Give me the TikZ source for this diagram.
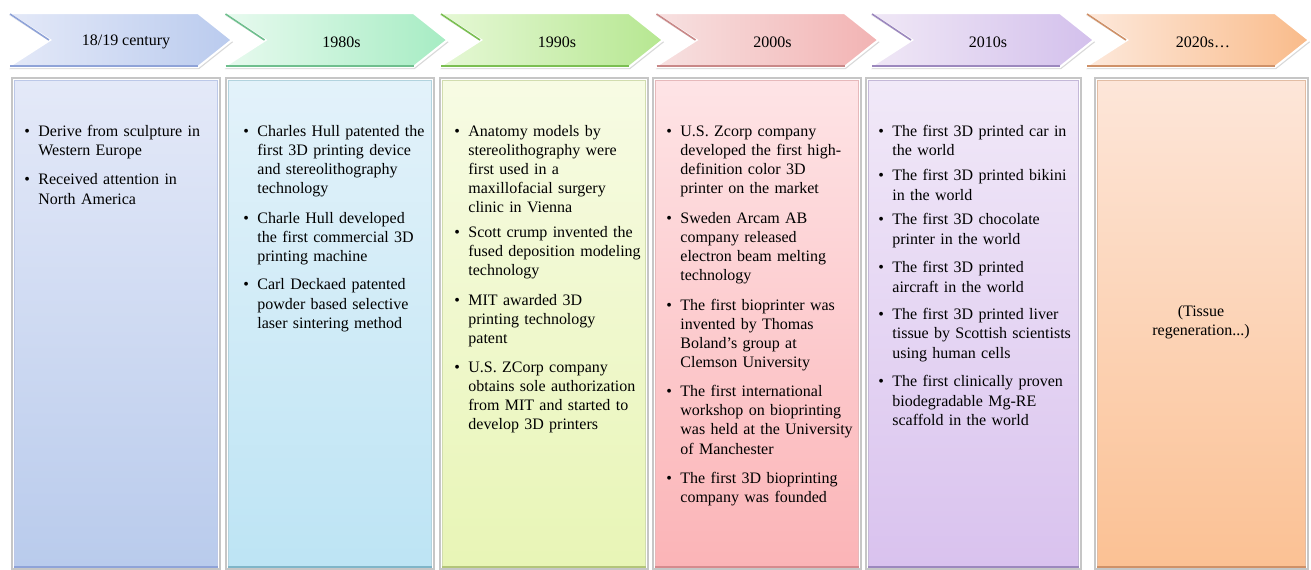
\documentclass[tikz,border=0pt]{standalone}
\usepackage{fontspec}
\setmainfont{Liberation Serif}
\usetikzlibrary{positioning,shadows}

\definecolor{blueL}{HTML}{E4E9F8}
\definecolor{blueR}{HTML}{BACBEE}
\definecolor{blueD}{HTML}{8FA3D8}
\definecolor{mintL}{HTML}{E8FAEF}
\definecolor{mintR}{HTML}{A6ECC3}
\definecolor{mintD}{HTML}{6FBF8E}
\definecolor{limeL}{HTML}{E6F8D6}
\definecolor{limeR}{HTML}{B6E791}
\definecolor{limeD}{HTML}{7BBF52}
\definecolor{pinkL}{HTML}{F7E1E1}
\definecolor{pinkR}{HTML}{F2B3B3}
\definecolor{pinkD}{HTML}{C98888}
\definecolor{lilaL}{HTML}{F0E8F6}
\definecolor{lilaR}{HTML}{D3C0EC}
\definecolor{lilaD}{HTML}{9C88BE}
\definecolor{peachL}{HTML}{FDE9DC}
\definecolor{peachR}{HTML}{F9BB8A}
\definecolor{peachD}{HTML}{CF9168}
% panel colours
\definecolor{bluT}{HTML}{E4E9F8}
\definecolor{bluB}{HTML}{B9CBEC}
\definecolor{cyaT}{HTML}{E3F2FA}
\definecolor{cyaB}{HTML}{BDE4F4}
\definecolor{cyaD}{HTML}{7FB5C8}
\definecolor{yelT}{HTML}{F7FBE4}
\definecolor{yelB}{HTML}{E8F5B6}
\definecolor{yelD}{HTML}{B3C57A}
\definecolor{redT}{HTML}{FEE4E6}
\definecolor{redB}{HTML}{FBB4B7}
\definecolor{redD}{HTML}{D68A8E}
\definecolor{vioT}{HTML}{F1E9F8}
\definecolor{vioB}{HTML}{D9C2EE}
\definecolor{orgT}{HTML}{FDE6D9}
\definecolor{orgB}{HTML}{FBC194}

\tikzset{
  era/.style={draw=white, line width=1.2pt,
    drop shadow={opacity=.3, shadow xshift=.6pt, shadow yshift=-1.2pt}},
  eralabel/.style={inner sep=0pt, font=\fontsize{9.1}{10.9}\selectfont},
  panel/.style={anchor=north west, inner sep=0pt, minimum height=9.72cm,
    draw=#1!60, line width=.5pt,
    preaction={draw=gray!45, double=white, double distance=2pt, line width=.8pt}},
  facts/.style={anchor=base west, text width=3.9cm, align=left, inner sep=0pt,
    font=\fontsize{9.1}{10.9}\selectfont},
}

% one arrow of the time line: x, left colour, right colour, edge colour
\newcommand{\era}[4]{%
  \shade[era, left color=#2, right color=#3] (#1,13) -- ++(190,0) -- ++(34,27)
    -- ++(-34,27) -- ++(-190,0) -- ++(42,-27) -- cycle;
  \draw[#4, line width=.9pt] (#1+2,14) -- (#1+41,40);
  \draw[#4, line width=.9pt] (#1+2,66) -- (#1+190,66);
}
\newcommand{\itm}{\leftskip=8pt\noindent\llap{\makebox[8pt][l]{\textbullet}}}
\newcommand{\gap}[1]{\par\vspace{#1}}

\begin{document}
\begin{tikzpicture}[x=0.02cm,y=-0.02cm]
\useasboundingbox (0,0) rectangle (1311,569);

% time line
\era{8}{blueL}{blueR}{blueD}
\era{223.5}{mintL}{mintR}{mintD}
\era{439}{limeL}{limeR}{limeD}
\era{654.5}{pinkL}{pinkR}{pinkD}
\era{870}{lilaL}{lilaR}{lilaD}
\era{1085}{peachL}{peachR}{peachD}

\node[eralabel] (e1) at (126,42) {18/19 century};
\node[eralabel] (e2) at (341.5,42) {1980s};
\node[eralabel] (e3) at (557,42) {1990s};
\node[eralabel] (e4) at (772.5,42) {2000s};
\node[eralabel] (e5) at (988,42) {2010s};
\node[eralabel] (e6) at (1203,42) {2020s…};

% panels
\node[panel=blueD, top color=bluT, bottom color=bluB, minimum width=4.06cm] (p1) at (14,80) {};
\node[panel=cyaD, top color=cyaT, bottom color=cyaB, minimum width=4.06cm] (p2) at (228,80) {};
\node[panel=yelD, top color=yelT, bottom color=yelB, minimum width=4.06cm] (p3) at (442,80) {};
\node[panel=redD, top color=redT, bottom color=redB, minimum width=4.06cm] (p4) at (655,80) {};
\node[panel=lilaD, top color=vioT, bottom color=vioB, minimum width=4.2cm] (p5) at (868,80) {};
\node[panel=peachD, top color=orgT, bottom color=orgB, minimum width=4.16cm] (p6) at (1097,80) {};

\draw[blueD, line width=1pt] (p1.south west) -- (p1.south east);
\draw[cyaD, line width=1pt] (p2.south west) -- (p2.south east);
\draw[yelD, line width=1pt] (p3.south west) -- (p3.south east);
\draw[redD, line width=1pt] (p4.south west) -- (p4.south east);
\draw[lilaD, line width=1pt] (p5.south west) -- (p5.south east);
\draw[peachD, line width=1pt] (p6.south west) -- (p6.south east);

% texts
\node[facts] (t1) at (24,136) {%
  \itm Derive from sculpture in\newline Western Europe
  \gap{6pt}\itm Received attention in\newline North America\par};

\node[facts] (t2) at (243,136) {%
  \itm Charles Hull patented the\newline first 3D printing device\newline
    and stereolithography\newline technology
  \gap{6pt}\itm Charle Hull developed\newline the first commercial 3D\newline printing machine
  \gap{5.3pt}\itm Carl Deckaed patented\newline powder based selective\newline laser sintering method\par};

\node[facts] (t3) at (454,136) {%
  \itm Anatomy models by\newline stereolithography were\newline first used in a\newline
    maxillofacial surgery\newline clinic in Vienna
  \gap{3.2pt}\itm Scott crump invented the\newline fused deposition modeling\newline technology
  \gap{6pt}\itm MIT awarded 3D\newline printing technology\newline patent
  \gap{5.5pt}\itm U.S. ZCorp company\newline obtains sole authorization\newline
    from MIT and started to\newline develop 3D printers\par};

\node[facts] (t4) at (666,136) {%
  \itm U.S. Zcorp company\newline developed the first high-\newline definition color 3D\newline
    printer on the market
  \gap{6pt}\itm Sweden Arcam AB\newline company released\newline electron beam melting\newline technology
  \gap{6pt}\itm The first bioprinter was\newline invented by Thomas\newline Boland's group at\newline
    Clemson University
  \gap{5.5pt}\itm The first international\newline workshop on bioprinting\newline
    was held at the University\newline of Manchester
  \gap{6pt}\itm The first 3D bioprinting\newline company was founded\par};

\node[facts] (t5) at (878,136) {%
  \itm The first 3D printed car in\newline the world
  \gap{3.8pt}\itm The first 3D printed bikini\newline in the world
  \gap{3.2pt}\itm The first 3D chocolate\newline printer in the world
  \gap{5.5pt}\itm The first 3D printed\newline aircraft in the world
  \gap{4.9pt}\itm The first 3D printed liver\newline tissue by Scottish scientists\newline
    using human cells
  \gap{5.5pt}\itm The first clinically proven\newline biodegradable Mg-RE\newline scaffold in the world\par};

\node[eralabel, align=center] (t6) at (1201,322) {(Tissue\\regeneration...)};
\end{tikzpicture}
\end{document}
